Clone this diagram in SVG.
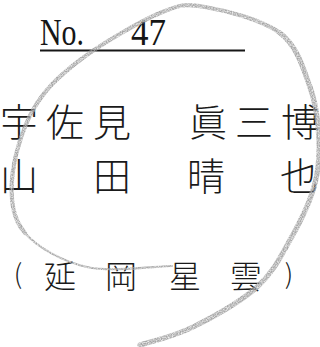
<svg xmlns="http://www.w3.org/2000/svg" width="320" height="347" viewBox="0 0 320 347">
<defs>
<style>
.lat{font-family:"Liberation Serif","Times New Roman",serif;font-size:37px;fill:#161616}
.jp{font-family:"Noto Sans CJK JP","Noto Sans CJK SC",sans-serif;font-weight:300;fill:#1a1a1a;text-anchor:middle}
.row{font-size:38px}
.sub{font-size:32px}
.par{font-size:27px}
.pencil{fill:none;stroke:#a8a8a8;stroke-linecap:round;stroke-linejoin:round}
</style>
<filter id="grain" x="-5%" y="-5%" width="110%" height="110%">
<feTurbulence type="fractalNoise" baseFrequency="0.8" numOctaves="2" seed="5" result="n"/>
<feColorMatrix in="n" type="matrix" values="0 0 0 0 0  0 0 0 0 0  0 0 0 0 0  0 0 0 -1.6 1.5" result="a"/>
<feComposite in="SourceGraphic" in2="a" operator="in"/>
</filter>
</defs>
<rect width="320" height="347" fill="#ffffff"/>

<g id="number">
<text class="lat" y="45"><tspan x="40" textLength="44" lengthAdjust="spacingAndGlyphs">No.</tspan> <tspan x="131" textLength="35" lengthAdjust="spacingAndGlyphs">47</tspan></text>
<line x1="40" y1="50.5" x2="245" y2="50.5" stroke="#161616" stroke-width="1.8"/>
</g>

<g id="names">
<text class="jp row" y="135.5" x="19 65 112 160 208 254 300">宇佐見　眞三博</text>
<text class="jp row" y="190" x="19 64 112 159 206 252 299">山　田　晴　也</text>
<text class="jp sub" y="288" x="60 90 121 153 185 215 246">延　岡　星　雲</text>
<text class="jp par" y="284" x="18">(</text>
<text class="jp par" y="284" x="289">)</text>
</g>

<g id="pencil-loop" filter="url(#grain)">
<path class="pencil" stroke-width="2.2" d="M172,266 C154.8,266.3 111.5,272.5 87,267 C62.5,261.5 37.5,247.5 25,233"/>
<path class="pencil" stroke-width="4.2" d="M25,233 C12.5,218.5 10.7,200.5 12,180 C13.3,159.5 21.7,130 33,110 C44.3,90 58.8,76.2 80,60 C101.2,43.8 139.2,21.8 160,13 C180.8,4.2 185,3.7 205,7 C225,10.3 262.5,19.7 280,33"/>
<path class="pencil" stroke-width="5.2" d="M280,33 C297.5,46.3 303.5,69.2 310,87 C316.5,104.8 318.3,123.3 319,140 C319.7,156.7 318.8,170.3 314,187 C309.2,203.7 299.5,223.3 290,240 C280.5,256.7 273.2,272.5 257,287 C240.8,301.5 212.5,317.3 193,327 C173.5,336.7 152.2,341.2 140,345"/>
</g>
</svg>
